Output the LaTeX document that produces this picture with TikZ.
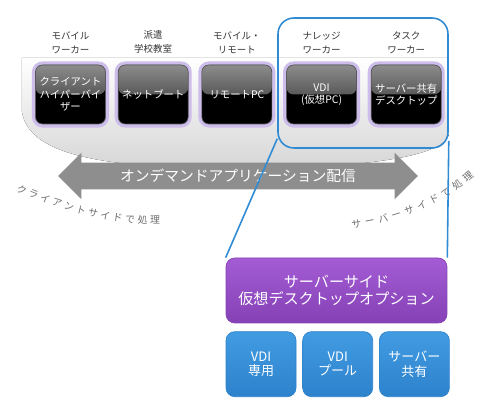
\documentclass[tikz,border=0pt]{standalone}
\usepackage{fontspec}
\setmainfont{Noto Sans CJK JP}
\usepackage{xcolor}
\usepackage{tikz}
\usetikzlibrary{arrows.meta,positioning,shapes.arrows,decorations.text}
\definecolor{glowLilac}{HTML}{CDBDEA}
\definecolor{frameBlue}{HTML}{2F8BD3}
\definecolor{optPurple}{HTML}{A45CD4}
\definecolor{optPurpleDark}{HTML}{8541B6}
\definecolor{typeBlue}{HTML}{429CE2}
\definecolor{typeBlueDark}{HTML}{2D82CC}
\definecolor{arrowGray}{HTML}{8E8E8E}
\definecolor{labelGray}{HTML}{333333}
\definecolor{curveGray}{HTML}{6E6E6E}

\begin{document}
\begin{tikzpicture}[x=0.02cm, y=-0.02cm,
    clientbox/.style={fill=black, draw=black!65, rounded corners=4pt, minimum width=1.4cm, minimum height=1.18cm,
        text width=1.24cm, inner xsep=2pt, align=center, text=white, font=\fontsize{5.9}{7.1}\selectfont,
        preaction={draw=glowLilac, line width=4pt},
        path picture={\shade[top color=black!45, bottom color=black!85] (path picture bounding box.north west) rectangle (path picture bounding box.east);}},
    rolelabel/.style={text=labelGray, align=center, inner sep=1pt, font=\fontsize{5.4}{8}\selectfont},
    optbox/.style={top color=optPurple, bottom color=optPurpleDark, draw=optPurpleDark, rounded corners=5pt,
        minimum width=4.42cm, minimum height=1.3cm, text=white, align=center, font=\fontsize{8.6}{9.8}\selectfont},
    typebox/.style={top color=typeBlue, bottom color=typeBlueDark, draw=typeBlueDark, rounded corners=5pt,
        minimum width=1.4cm, minimum height=1.3cm, text=white, align=center, font=\fontsize{7.4}{8}\selectfont},
    bluelink/.style={draw=frameBlue, line width=0.9pt},
    sidetext/.style={decorate, decoration={text along path, text color=curveGray, text align={fit to path}}}
]
\useasboundingbox (0,0) rectangle (485,411);

% backdrop behind the client row
\fill[top color=white, bottom color=black!16] (22,58) -- (22,112) .. controls (30,162) and (130,168) .. (240,168) .. controls (360,168) and (440,158) .. (449,135) -- (449,58) -- cycle;

\node[clientbox] (hyper) at (70.5,94.5) {クライアント\\ハイパーバイ\\ザー};
\node[clientbox, right=0.24cm of hyper] (netboot) {ネットブート};
\node[clientbox, right=0.26cm of netboot] (remote) {リモートPC};
\node[clientbox, right=0.28cm of remote] (vdi) {VDI\\(仮想PC)};
\node[clientbox, right=0.28cm of vdi] (shared) {サーバー共有\\デスクトップ};

\node[rolelabel, above=0.18cm of hyper] (mobile) {モバイル\\ワーカー};
\node[rolelabel, above=0.18cm of netboot] (dispatch) {派遣\\学校教室};
\node[rolelabel, above=0.18cm of remote] (mobremote) {モバイル・\\リモート};
\node[rolelabel, above=0.18cm of vdi] (knowledge) {ナレッジ\\ワーカー};
\node[rolelabel, above=0.18cm of shared] (task) {タスク\\ワーカー};

\node[draw=frameBlue, line width=0.9pt, rounded corners=9pt, minimum width=3.4cm, minimum height=2.6cm] (focus) at (363,83) {};

\node[double arrow, fill=arrowGray, text=white, font=\fontsize{8.4}{10}\selectfont, double arrow head extend=0.2cm,
    double arrow tip angle=90, minimum height=7.2cm, inner ysep=3.5pt] (ondemand) at (238,176) {オンデマンドアプリケーション配信};

\path[sidetext, decoration={text={|\fontsize{5.6}{6}\selectfont|クライアントサイドで処理}}] (16,191) .. controls (60,210) and (105,224) .. (160,224);
\path[sidetext, decoration={text={|\fontsize{5.6}{6}\selectfont|サーバーサイドで処理}}] (352,228) .. controls (398,222) and (442,205) .. (474,176);

\node[optbox] (option) at (336.5,290.5) {サーバーサイド\\仮想デスクトップオプション};
\node[typebox, below=0.16cm of option.south west, anchor=north west] (dedicated) {VDI\\専用};
\node[typebox, right=0.12cm of dedicated] (pool) {VDI\\プール};
\node[typebox, right=0.12cm of pool] (sharedsrv) {サーバー\\共有};

\draw[bluelink] ([yshift=0.2cm]focus.south west) -- (option.north west);
\draw[bluelink] ([yshift=0.16cm]focus.south east) -- (option.north east);
\end{tikzpicture}
\end{document}
